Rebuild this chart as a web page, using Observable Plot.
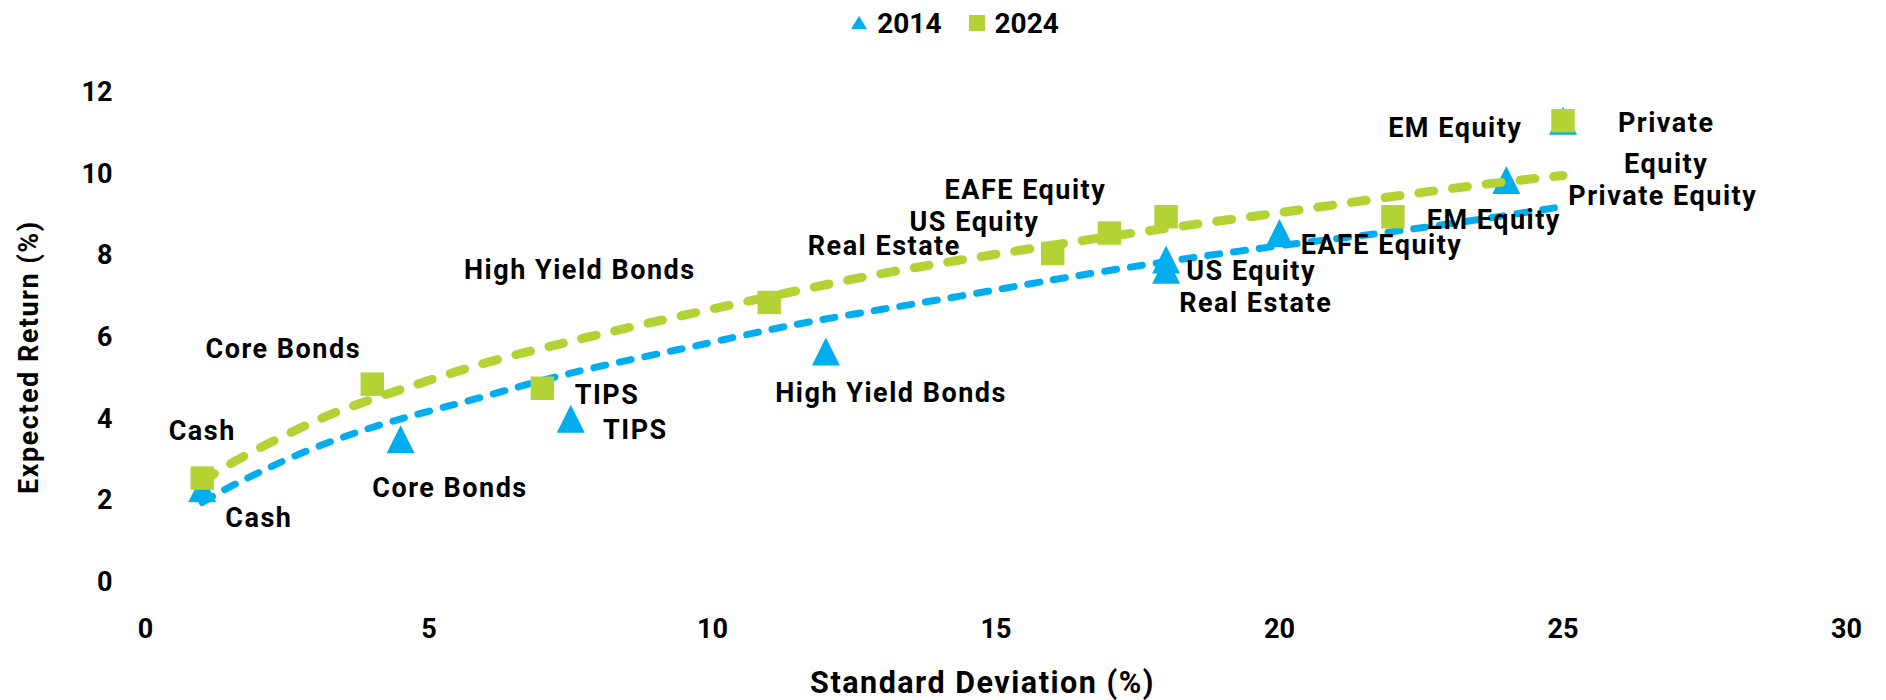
<!DOCTYPE html>
<html>
<head>
<meta charset="utf-8">
<script src="https://cdn.jsdelivr.net/npm/d3@7"></script>
<script src="https://cdn.jsdelivr.net/npm/@observablehq/plot@0.6"></script>
<style>
  body { margin: 0; background: #fff; font-family: Roboto, sans-serif; }
  #legend { height: 46px; display: flex; align-items: center; justify-content: center; padding-left: 24px;
            font-weight: 700; font-size: 28px; color: #000; }
  #legend .item { display: flex; align-items: center; }
  #legend svg { display: block; margin-right: 10px; }
  #legend .gap { width: 27px; }
  #chart svg { display: block; }
</style>
</head>
<body>
<div id="legend"></div>
<div id="chart"></div>
<script>
// ---- data ----
const assets = ["Cash", "Core Bonds", "TIPS", "High Yield Bonds", "Real Estate", "US Equity", "EAFE Equity", "EM Equity", "Private Equity"];
const sd2014  = [1, 4.5, 7.5, 12, 18, 18, 20, 24, 25];
const ret2014 = [2.3, 3.5, 4.0, 5.65, 7.65, 7.9, 8.55, 9.85, 11.3];
const sd2024  = [1, 4, 7, 11, 16, 17, 18, 22, 25];
const ret2024 = [2.55, 4.85, 4.75, 6.85, 8.05, 8.55, 8.95, 8.95, 11.3];

// dashed trend curves
const trend2014X = [1, 1.35, 1.85, 2.68, 3.62, 4.56, 5.97, 7.44, 9.49, 11.26, 13.02, 14.78, 16.72, 19.49, 21.25, 23.02, 25];
const trend2014Y = [1.95, 2.24, 2.59, 3.14, 3.63, 4.04, 4.53, 5.14, 5.71, 6.28, 6.69, 7.10, 7.59, 8.16, 8.45, 8.77, 9.20];
const trend2024X = [1, 1.24, 1.79, 2.62, 3.38, 4.44, 5.97, 7.44, 8.73, 10.96, 12.73, 14.49, 16.55, 18.31, 20.08, 21.84, 23.6, 25];
const trend2024Y = [2.45, 2.69, 3.14, 3.71, 4.20, 4.69, 5.39, 5.88, 6.31, 6.98, 7.51, 7.92, 8.38, 8.73, 9.06, 9.42, 9.75, 9.96];

// point labels as placed in the reference (anchor in data units)
const labelText = ["Cash", "Cash", "Core Bonds", "Core Bonds", "TIPS", "TIPS", "High Yield Bonds", "High Yield Bonds",
                   "Real Estate", "Real Estate", "US Equity", "US Equity", "EAFE Equity", "EAFE Equity",
                   "EM Equity", "EM Equity", "Private\nEquity", "Private Equity"];
const labelX = [1.0, 2.0, 2.43, 5.37, 8.14, 8.64, 7.66, 13.15, 13.03, 19.58, 14.62, 19.50, 15.52, 21.80, 23.1, 23.78, 26.82, 26.76];
const labelY = [3.81, 1.67, 5.81, 2.42, 4.69, 3.84, 7.75, 4.73, 8.34, 6.94, 8.93, 7.73, 9.70, 8.36, 11.22, 8.98, 10.84, 9.55];

const seriesNames = ["2014", "2024"];
const xTicks = [0, 5, 10, 15, 20, 25, 30];
const yTicks = [0, 2, 4, 6, 8, 10, 12];
const xTitle = "Standard Deviation (%)";
const yTitle = "Expected Return (%)";

// ---- styles ----
const BLUE = "#00AEEF";
const GREEN = "#B3D234";

const pts2014 = assets.map((a, i) => ({asset: a, sd: sd2014[i], ret: ret2014[i]}));
const pts2024 = assets.map((a, i) => ({asset: a, sd: sd2024[i], ret: ret2024[i]}));
const tr2014 = trend2014X.map((x, i) => ({x, y: trend2014Y[i]}));
const tr2024 = trend2024X.map((x, i) => ({x, y: trend2024Y[i]}));
const labels = labelText.map((t, i) => ({t, x: labelX[i], y: labelY[i]}));

const triangleSym = { draw(ctx, size) { const r = Math.sqrt(size / Math.PI);
  ctx.moveTo(0, -r); ctx.lineTo(r, r); ctx.lineTo(-r, r); ctx.closePath(); } };
const squareSym = { draw(ctx, size) { const r = Math.sqrt(size / Math.PI);
  ctx.rect(-r, -r, 2 * r, 2 * r); } };

// legend
const legend = document.getElementById("legend");
legend.innerHTML = `
  <div class="item"><svg width="16" height="14"><path d="M8,0L16,13L0,13Z" fill="${BLUE}"/></svg><span>${seriesNames[0]}</span></div>
  <div class="gap"></div>
  <div class="item"><svg width="16" height="16"><rect width="16" height="16" fill="${GREEN}"/></svg><span>${seriesNames[1]}</span></div>`;

const plot = Plot.plot({
  width: 1886,
  height: 654,
  marginLeft: 145,
  marginRight: 40,
  marginTop: 45.7,
  marginBottom: 118.3,
  x: {domain: [0, 30]},
  y: {domain: [0, 12]},
  style: {fontFamily: "Roboto, sans-serif", fontSize: "27px", fontWeight: 700, color: "#000", background: "#fff", overflow: "visible"},
  marks: [
    Plot.axisX({ticks: xTicks, tickSize: 0, tickPadding: 37, label: null, fontSize: 27}),
    Plot.axisY({ticks: yTicks, tickSize: 0, tickPadding: 33, label: null, fontSize: 27}),
    Plot.dot(pts2014, {x: "sd", y: "ret", symbol: triangleSym, r: 14, fill: BLUE, stroke: null}),
    Plot.line(tr2014, {x: "x", y: "y", curve: "basis", stroke: BLUE, strokeWidth: 7, strokeDasharray: "12,14", strokeLinecap: "round"}),
    Plot.line(tr2024, {x: "x", y: "y", curve: "basis", stroke: GREEN, strokeWidth: 9, strokeDasharray: "15,19", strokeLinecap: "round"}),
    Plot.dot(pts2024, {x: "sd", y: "ret", symbol: squareSym, r: 11.7, fill: GREEN, stroke: null}),
    Plot.text(labels, {x: "x", y: "y", text: "t", lineAnchor: "middle", textAnchor: "middle", fontSize: 27, lineHeight: 1.52, fill: "#000"}),
    Plot.text([yTitle], {frameAnchor: "left", text: d => d, rotate: -90, dx: -116, dy: 20, lineAnchor: "middle", textAnchor: "middle", fontSize: 27, fill: "#000"}),
    Plot.text([xTitle], {frameAnchor: "bottom", text: d => d, dx: -13.5, dy: 101.3, lineAnchor: "middle", textAnchor: "middle", fontSize: 30.5, fill: "#000"})
  ]
});
document.getElementById("chart").appendChild(plot);
d3.select(plot).selectAll('g[aria-label="text"] text').style("letter-spacing", "1.5px");
</script>
</body>
</html>
